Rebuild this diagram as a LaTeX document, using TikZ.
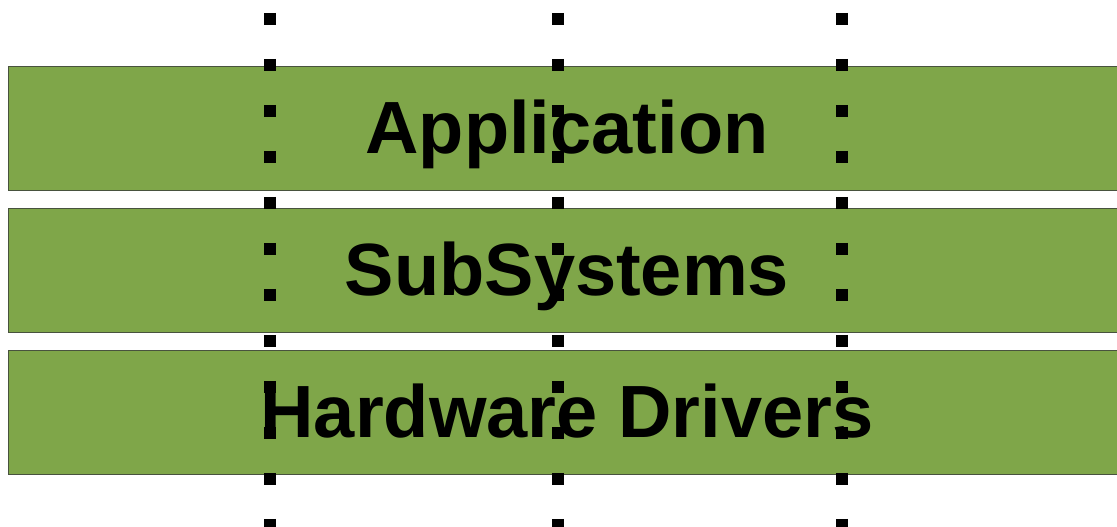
\documentclass[tikz,border=0pt]{standalone}
\usepackage{fontspec}
\setmainfont{Liberation Sans}
\usepackage{tikz}
\definecolor{layergreen}{RGB}{127,166,73}
\definecolor{layeredge}{RGB}{72,82,62}
\tikzset{
  layer/.style={draw=layeredge,line width=1pt,fill=layergreen,
                minimum width=1118pt,minimum height=124pt,inner sep=0pt,
                text height=48.5pt,text depth=0pt,
                font=\fontsize{74}{80}\selectfont\bfseries},
  guide/.style={black,line width=12pt,dash pattern=on 12pt off 34pt},
}

\begin{document}
\begin{tikzpicture}[x=1pt,y=1pt]
  \path[use as bounding box] (0,0) rectangle (1117,527);

  % the three stacked layers
  \node[layer] (app) at (567,398) {Application};
  \node[layer] (sub) at (567,256) {SubSystems};
  \node[layer] (hw)  at (567,114) {Hardware Drivers};

  % dotted guides running through all layers
  \foreach \gx/\gname in {270/left,558/mid,842/right}{
    \coordinate (\gname top) at (\gx,514);
    \coordinate (\gname bot) at (\gx,-10);
    \draw[guide] (\gname top) -- (\gname bot);
  }
\end{tikzpicture}
\end{document}
